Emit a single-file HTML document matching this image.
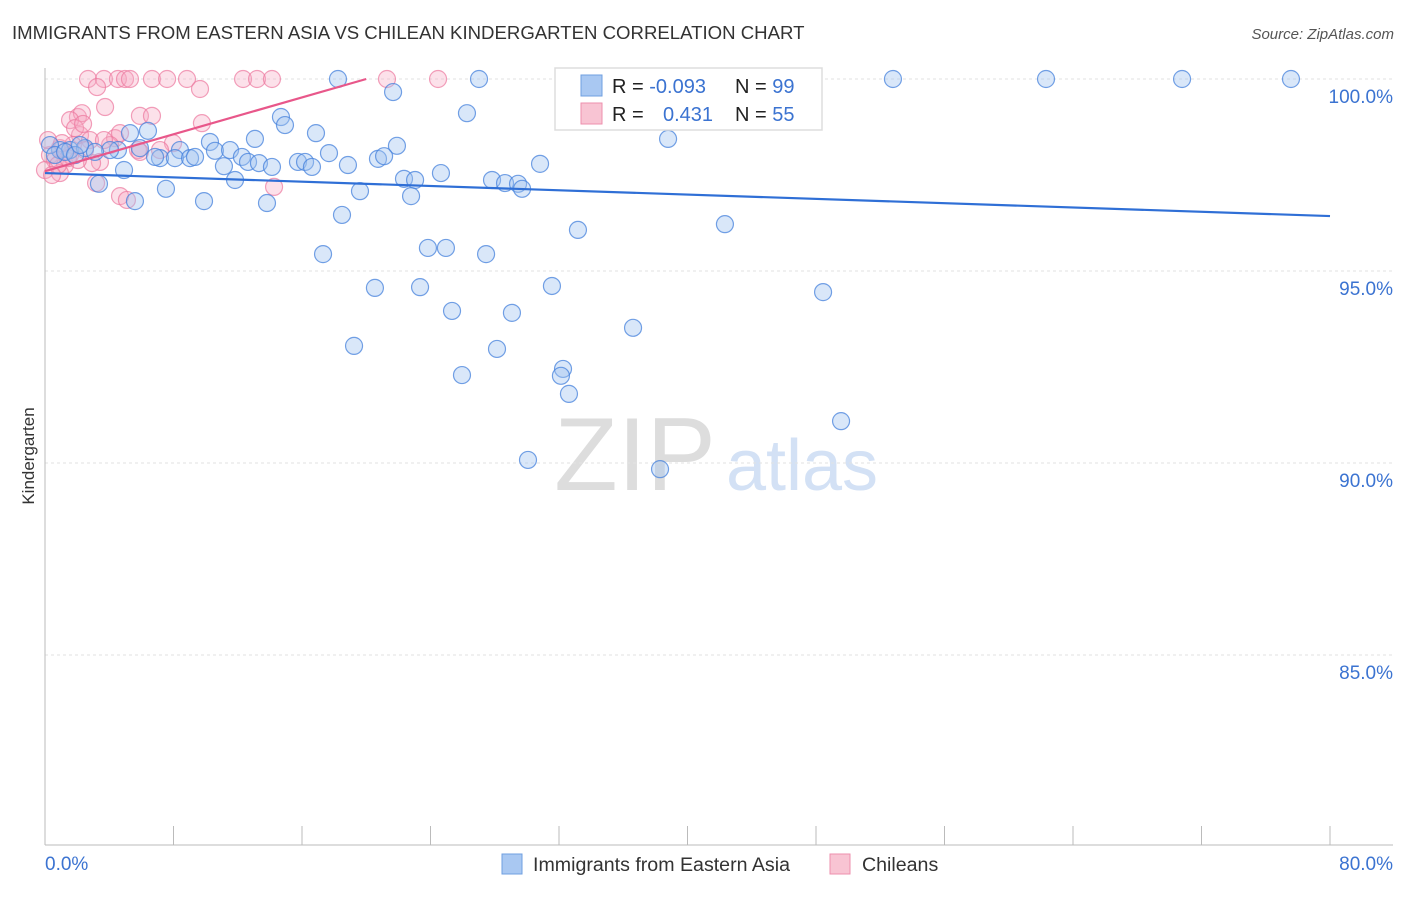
<!DOCTYPE html>
<html><head><meta charset="utf-8"><style>
body{margin:0;background:#fff;font-family:"Liberation Sans",sans-serif}
svg text{font-family:"Liberation Sans",sans-serif}
</style></head><body>
<svg id="chart" width="1406" height="892" viewBox="0 0 1406 892" xmlns="http://www.w3.org/2000/svg">
<text x="12" y="39" font-size="18.6" fill="#333">IMMIGRANTS FROM EASTERN ASIA VS CHILEAN KINDERGARTEN CORRELATION CHART</text>
<text x="1394" y="39" font-size="15" fill="#555" font-style="italic" text-anchor="end">Source: ZipAtlas.com</text>
<g>
<text x="635" y="490" font-size="104" fill="#ddd" font-family="Liberation Serif" text-anchor="middle">ZIP</text>
<text x="802" y="490" font-size="72" fill="#d3e1f5" text-anchor="middle">atlas</text>
</g>
<g id="grid"></g>
<g id="axes"></g>
<g id="points"></g>
<g id="trends"></g>
<text transform="translate(34,456) rotate(-90)" font-size="17" fill="#333" text-anchor="middle">Kindergarten</text>
<g>
<rect x="555" y="68" width="267" height="62" fill="#fff" stroke="#ddd" stroke-width="1.5"/>
<rect x="581" y="75" width="21" height="21" fill="#a9c8f2" stroke="#6f9fe0"/>
<rect x="581" y="103" width="21" height="21" fill="#f8c4d3" stroke="#ee8fae"/>
<text x="612" y="93" font-size="20" fill="#222">R = <tspan fill="#3b73d1">-0.093</tspan></text>
<text x="735" y="93" font-size="20" fill="#222">N = <tspan fill="#3b73d1">99</tspan></text>
<text x="612" y="121" font-size="20" fill="#222">R = </text>
<text x="663" y="121" font-size="20" fill="#3b73d1">0.431</text>
<text x="735" y="121" font-size="20" fill="#222">N = <tspan fill="#3b73d1">55</tspan></text>
</g>
<g>
<rect x="502" y="854" width="20" height="20" fill="#a9c8f2" stroke="#6f9fe0"/>
<text x="533" y="871" font-size="19.6" fill="#333">Immigrants from Eastern Asia</text>
<rect x="830" y="854" width="20" height="20" fill="#f8c4d3" stroke="#ee8fae"/>
<text x="862" y="871" font-size="19.6" fill="#333">Chileans</text>
</g>
</svg>
<script>
const blueX=[18.24,27.02,34.12,37.85,52.79,62.32,70.79,77.57,21.67,26.27,14.69,14.94,6.41,5.29,16.87,13.07,38.79,21.91,10.27,8.40,5.91,4.54,4.05,0.93,1.56,2.49,3.11,7.16,6.85,8.09,9.03,9.34,10.58,11.52,12.26,12.64,13.32,14.13,11.14,11.83,15.75,16.19,16.62,17.68,18.86,20.73,21.11,24.65,22.35,23.04,27.83,28.64,29.45,29.70,30.82,19.61,22.79,7.53,3.36,4.92,5.60,9.90,13.82,18.49,33.18,42.33,23.84,24.96,17.31,27.46,20.54,23.35,31.56,48.44,25.34,29.07,36.61,19.24,28.14,32.25,32.12,25.96,32.62,49.56,30.07,38.29,0.31,0.62,1.25,1.87,2.18];
const blueY=[100,100,100,100,100,100,100,100,99.66,99.11,99.01,98.80,98.65,98.59,98.59,98.44,98.44,98.26,98.36,98.15,98.20,98.15,98.15,98.15,98.15,98.20,98.10,97.94,97.97,97.94,97.94,97.97,98.13,98.15,97.97,97.84,97.81,97.71,97.73,97.37,97.84,97.84,97.71,98.07,97.76,97.92,97.99,97.55,97.40,97.37,97.37,97.29,97.27,97.14,97.79,97.08,96.95,97.14,97.27,97.63,96.82,96.82,96.77,96.46,96.07,96.22,95.60,95.60,95.44,95.44,94.56,94.58,94.61,94.45,93.96,93.91,93.52,93.05,92.97,92.45,92.27,92.29,91.80,91.09,90.08,89.84,98.28,98.02,98.10,98.02,98.28];
const pinkX=[2.68,3.67,4.54,4.98,5.29,6.66,7.60,8.84,12.33,13.20,14.13,21.29,24.47,3.24,9.65,3.74,2.05,2.30,1.56,2.18,5.91,6.66,1.74,2.80,4.36,4.67,7.97,5.79,9.77,0.93,0.31,0.62,1.25,0,0.93,3.42,2.93,3.18,4.67,5.10,14.26,2.49,1.56,4.05,0.19,1.87,2.37,0.81,0.44,5.91,7.16,3.67,1.43,1.06,2.05];
const pinkY=[100,100,100,100,100,100,100,100,100,100,100,100,100,99.79,99.74,99.27,99.01,99.11,98.93,98.54,99.04,99.04,98.28,98.41,98.46,98.59,98.33,98.15,98.85,98.20,98.02,97.89,97.76,97.63,97.55,97.84,97.81,97.29,96.95,96.85,97.19,98.15,98.02,98.28,98.41,98.72,98.83,97.76,97.50,98.10,98.15,98.41,97.94,98.33,97.89];
const blueTrendX=[0,80], blueTrendY=[97.55,96.43];
const pinkTrendX=[0,20], pinkTrendY=[97.6,100];
const yTicks=[100,95,90,85];
const yTickLabels=["100.0%","95.0%","90.0%","85.0%"];
const xTicks=[0,8,16,24,32,40,48,56,64,72,80];
const xEndLabels=["0.0%","80.0%"];

const NS="http://www.w3.org/2000/svg";
const X=v=>45+v*(1285/80);
const Y=v=>79+(100-v)*38.4;
function mk(tag,attrs,parent){const e=document.createElementNS(NS,tag);for(const k in attrs)e.setAttribute(k,attrs[k]);parent.appendChild(e);return e;}
const grid=document.getElementById('grid'),axes=document.getElementById('axes'),pts=document.getElementById('points'),tr=document.getElementById('trends');
yTicks.forEach((t,i)=>{
  const l=mk('line',{x1:45,x2:1393,y1:Y(t),y2:Y(t),stroke:'#e2e2e2','stroke-dasharray':'3,3'},grid);
  
  
  const tx=mk('text',{x:1393,y:Y(t)+24,'font-size':19,fill:'#3b73d1','text-anchor':'end'},axes);
  tx.textContent=yTickLabels[i];
  
  
});
const yax=mk('line',{x1:45,x2:45,y1:68,y2:845,stroke:'#bbb'},axes);


const xax=mk('line',{x1:45,x2:1393,y1:845,y2:845,stroke:'#bbb'},axes);


xTicks.forEach(t=>{
  const l=mk('line',{x1:X(t),x2:X(t),y1:826,y2:845,stroke:'#bbb'},axes);
  
  
});
[[xTicks[0],'start',45],[xTicks[xTicks.length-1],'end',1393]].forEach((a,i)=>{
  const tx=mk('text',{x:a[2],y:870,'font-size':19,fill:'#3b73d1','text-anchor':a[1]},axes);
  tx.textContent=xEndLabels[i];
  
  
});
pinkX.forEach((x,i)=>{
  const c=mk('circle',{cx:X(x),cy:Y(pinkY[i]),r:8.5,fill:'rgba(246,170,194,0.35)',stroke:'rgba(236,120,158,0.7)','stroke-width':1.2},pts);
  
  
});
blueX.forEach((x,i)=>{
  const c=mk('circle',{cx:X(x),cy:Y(blueY[i]),r:8.5,fill:'rgba(160,195,240,0.4)',stroke:'rgba(70,130,220,0.75)','stroke-width':1.2},pts);
  
  
});
const bt=mk('line',{x1:X(blueTrendX[0]),y1:Y(blueTrendY[0]),x2:X(blueTrendX[1]),y2:Y(blueTrendY[1]),stroke:'#2f6fd6','stroke-width':2.2},tr);


const pt=mk('line',{x1:X(pinkTrendX[0]),y1:Y(pinkTrendY[0]),x2:X(pinkTrendX[1]),y2:Y(pinkTrendY[1]),stroke:'#e8578a','stroke-width':2.2},tr);


</script>
</body></html>
